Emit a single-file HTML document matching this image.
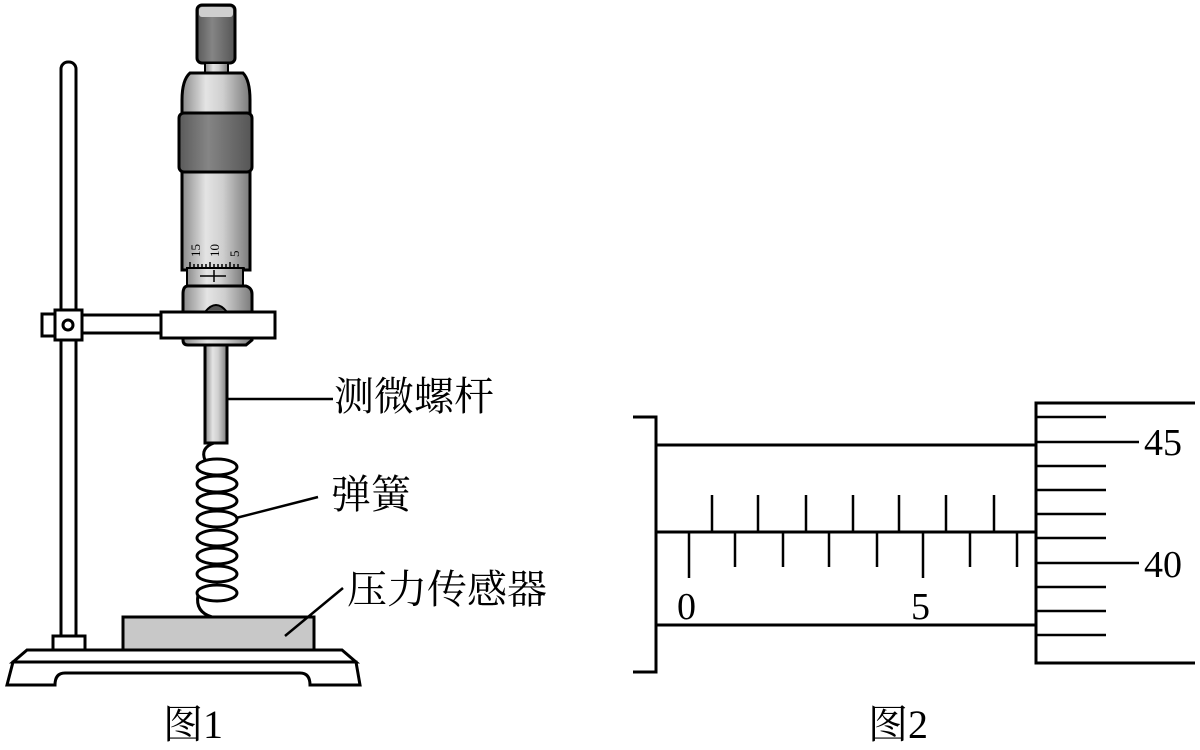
<!DOCTYPE html>
<html><head><meta charset="utf-8"><style>html,body{margin:0;padding:0;background:#fff;}svg{display:block}</style></head>
<body>
<svg width="1200" height="750" viewBox="0 0 1200 750" xmlns="http://www.w3.org/2000/svg">
<defs>
<linearGradient id="cyl" x1="0" x2="1" y1="0" y2="0">
<stop offset="0" stop-color="#8a8a8a"/><stop offset="0.35" stop-color="#e4e4e4"/><stop offset="0.6" stop-color="#cfcfcf"/><stop offset="1" stop-color="#7a7a7a"/>
</linearGradient>
<linearGradient id="dark" x1="0" x2="1" y1="0" y2="0">
<stop offset="0" stop-color="#5a5a5a"/><stop offset="0.4" stop-color="#858585"/><stop offset="1" stop-color="#555"/>
</linearGradient>
</defs>
<g stroke="#000" stroke-width="3" fill="#fff">
<rect x="61" y="62" width="15" height="580" rx="7"/>
<rect x="53" y="636" width="32" height="14"/>
<path d="M27 650 L342 650 L356 662 L13 662 Z"/>
<path d="M13 662 L356 662 L360 685 L310 685 Q310 673 300 673 L65 673 Q55 673 55 685 L7 685 Z"/>
<rect x="123" y="617" width="191" height="33" fill="#c8c8c8"/>
<rect x="197" y="5" width="38" height="58" rx="5" fill="url(#dark)"/>
<rect x="199" y="7" width="34" height="10" rx="3" fill="#cfcfcf" stroke="none"/>
<rect x="205" y="63" width="23" height="10" fill="url(#cyl)" stroke-width="2"/>
<path d="M190 73 L243 73 Q250 80 250 100 L250 270 L182 270 L182 100 Q182 80 190 73 Z" fill="url(#cyl)"/>
<rect x="179" y="113" width="73" height="59" rx="5" fill="url(#dark)"/>
<rect x="187" y="268" width="56" height="18" fill="url(#cyl)" stroke-width="2"/>
<path d="M188 286 L246 286 Q252 288 252 294 L252 340 L246 345 L188 345 Q183 345 183 340 L183 294 Q183 286 188 286 Z" fill="url(#cyl)"/>
<rect x="205" y="345" width="22" height="98" fill="url(#cyl)"/>
<rect x="82" y="315" width="80" height="18"/>
<rect x="161" y="312" width="114" height="26"/>
<rect x="42" y="314" width="13" height="22"/>
<rect x="55" y="310" width="27" height="30"/>
<circle cx="68" cy="325" r="5"/>
</g>
<path d="M205 312 Q216 298 227 312 Z" fill="#555" stroke="#000" stroke-width="2"/>
<g stroke="#000" stroke-width="1.5">
<line x1="187" y1="268" x2="245" y2="268"/>
<line x1="190" y1="262" x2="190" y2="268"/><line x1="194" y1="264" x2="194" y2="268"/><line x1="198" y1="264" x2="198" y2="268"/><line x1="202" y1="264" x2="202" y2="268"/><line x1="206" y1="264" x2="206" y2="268"/><line x1="210" y1="262" x2="210" y2="268"/><line x1="214" y1="264" x2="214" y2="268"/><line x1="218" y1="264" x2="218" y2="268"/><line x1="222" y1="264" x2="222" y2="268"/><line x1="226" y1="264" x2="226" y2="268"/><line x1="230" y1="262" x2="230" y2="268"/><line x1="234" y1="264" x2="234" y2="268"/><line x1="238" y1="264" x2="238" y2="268"/>
<line x1="200" y1="276" x2="226" y2="276"/><line x1="214" y1="270" x2="214" y2="282"/>
</g>
<g font-family="Liberation Serif, serif" font-size="13" fill="#000">
<text transform="translate(200,257) rotate(-90)">15</text>
<text transform="translate(219,257) rotate(-90)">10</text>
<text transform="translate(239,257) rotate(-90)">5</text>
</g>
<g stroke="#000" stroke-width="3" fill="none">
<path d="M214 443 Q200 448 205 460"/>
<ellipse cx="217" cy="467" rx="20" ry="8"/>
<ellipse cx="217" cy="484" rx="20" ry="8"/>
<ellipse cx="217" cy="501" rx="20" ry="8"/>
<ellipse cx="217" cy="519" rx="20" ry="8"/>
<ellipse cx="217" cy="538" rx="20" ry="8"/>
<ellipse cx="217" cy="556" rx="20" ry="8"/>
<ellipse cx="217" cy="574" rx="20" ry="8"/>
<ellipse cx="217" cy="593" rx="20" ry="8"/>
<path d="M198 595 Q195 612 212 617"/>
<line x1="227" y1="399" x2="333" y2="399" stroke-width="2.5"/>
<line x1="236" y1="518" x2="318" y2="497" stroke-width="2.5"/>
<line x1="285" y1="636" x2="343" y2="588" stroke-width="2.5"/>
</g>
<g font-family="Liberation Serif, 'Noto Serif CJK SC', serif" font-size="40" fill="#000">
<text x="334" y="410">测微螺杆</text>
<text x="331" y="508">弹簧</text>
<text x="347" y="603">压力传感器</text>
<text x="163" y="738">图1</text>
<text x="868" y="738">图2</text>
</g>
<g stroke="#000" stroke-width="3" fill="none">
<path d="M633 417 L656 417 L656 672 L633 672"/>
<line x1="656" y1="445" x2="1036" y2="445"/>
<line x1="656" y1="532" x2="1036" y2="532"/>
<line x1="656" y1="625" x2="1036" y2="625"/>
<path d="M1195 403 L1036 403 L1036 663 L1195 663"/>
<g stroke-width="2.5">
<line x1="1036" y1="417" x2="1106" y2="417"/>
<line x1="1036" y1="442" x2="1139" y2="442"/>
<line x1="1036" y1="466" x2="1106" y2="466"/>
<line x1="1036" y1="490" x2="1106" y2="490"/>
<line x1="1036" y1="514" x2="1106" y2="514"/>
<line x1="1036" y1="538" x2="1106" y2="538"/>
<line x1="1036" y1="563" x2="1139" y2="563"/>
<line x1="1036" y1="587" x2="1106" y2="587"/>
<line x1="1036" y1="611" x2="1106" y2="611"/>
<line x1="1036" y1="635" x2="1106" y2="635"/>
<line x1="689" y1="532" x2="689" y2="578"/>
<line x1="735" y1="532" x2="735" y2="567"/>
<line x1="783" y1="532" x2="783" y2="567"/>
<line x1="829" y1="532" x2="829" y2="567"/>
<line x1="877" y1="532" x2="877" y2="567"/>
<line x1="923" y1="532" x2="923" y2="578"/>
<line x1="970" y1="532" x2="970" y2="567"/>
<line x1="1017" y1="532" x2="1017" y2="567"/>
<line x1="712" y1="495" x2="712" y2="532"/>
<line x1="758" y1="495" x2="758" y2="532"/>
<line x1="806" y1="495" x2="806" y2="532"/>
<line x1="853" y1="495" x2="853" y2="532"/>
<line x1="899" y1="495" x2="899" y2="532"/>
<line x1="946" y1="495" x2="946" y2="532"/>
<line x1="994" y1="495" x2="994" y2="532"/>
</g>
</g>
<g font-family="Liberation Serif, serif" font-size="38" fill="#000">
<text x="677" y="619">0</text>
<text x="911" y="619">5</text>
<text x="1144" y="455">45</text>
<text x="1144" y="577">40</text>
</g>
</svg>
</body></html>
